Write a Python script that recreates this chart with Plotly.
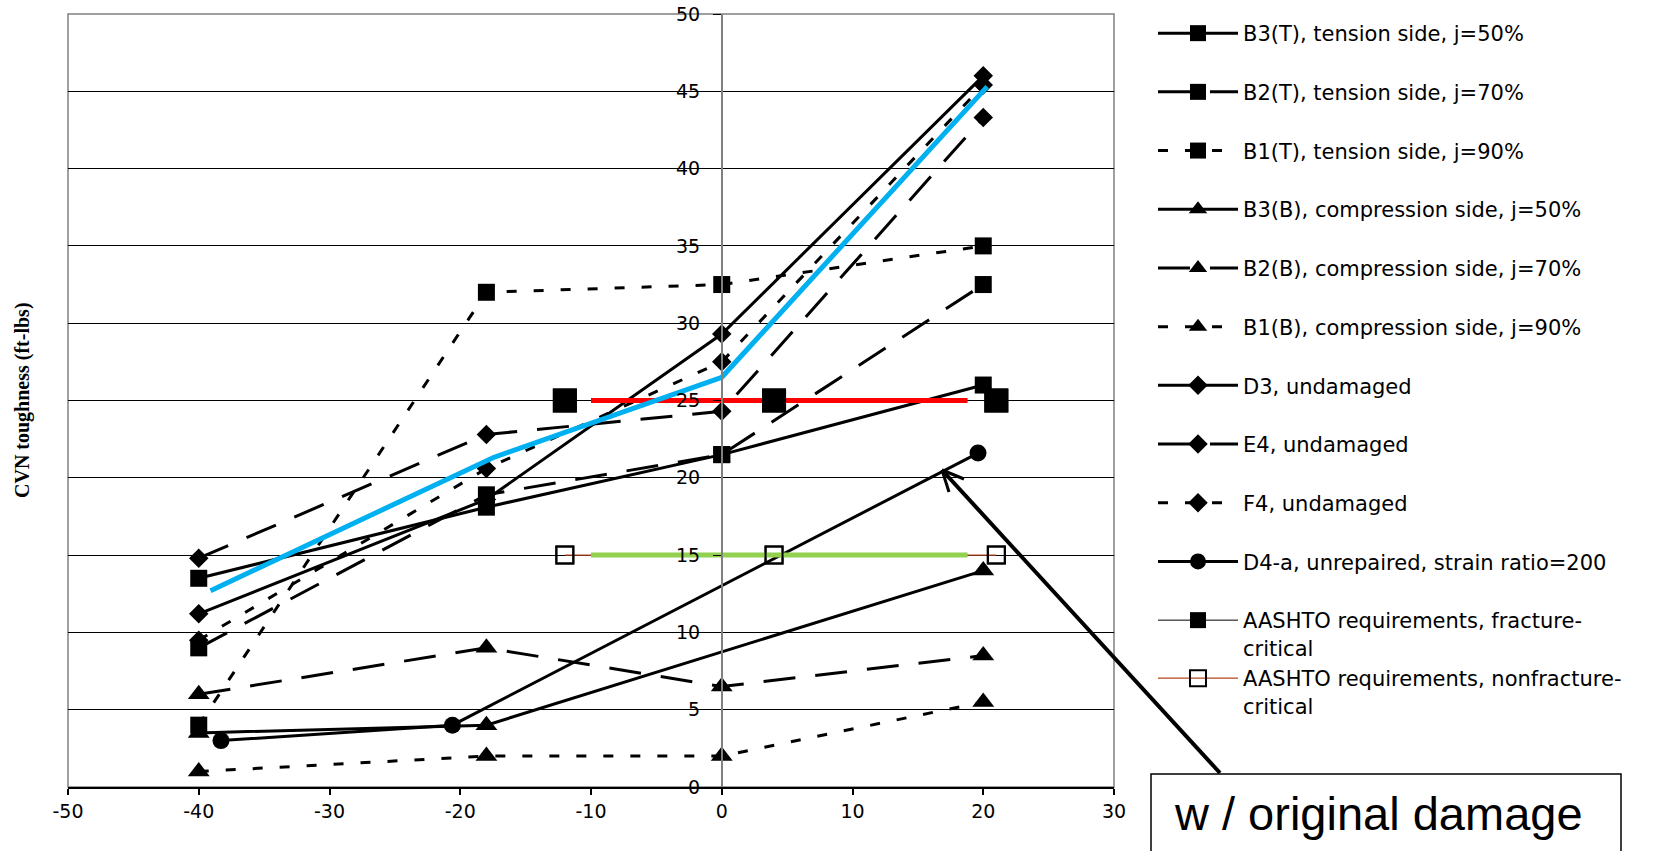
import plotly.graph_objects as go

# ---- data -------------------------------------------------------------
temps = [-40, -18, 0, 20]

b3_t = [13.5, 18.1, 21.5, 26.0]
b2_t = [9.0, 18.9, 21.5, 32.5]
b1_t = [4.0, 32.0, 32.5, 35.0]
b3_b = [3.5, 4.0, None, 14.0]
b2_b = [6.0, 9.0, 6.5, 8.5]
b1_b = [1.0, 2.0, 2.0, 5.5]
d3 = [11.2, 18.6, 29.3, 46.0]
e4 = [14.8, 22.8, 24.3, 43.3]
f4 = [9.5, 20.6, 27.5, 45.4]

d4a_temps = [-38.3, -20.6, 19.6]
d4a = [3.0, 4.0, 21.6]

aashto_temps = [-12, 4, 21]
aashto_fc = [25, 25, 25]
aashto_nfc = [15, 15, 15]

req_span = [-10, 18.8]
req_fc_level = [25, 25]
req_nfc_level = [15, 15]

trend_temps = [-39.1, -17.5, 0, 20.3]
trend_vals = [12.7, 21.3, 26.5, 45.3]

x_ticks = [-50, -40, -30, -20, -10, 0, 10, 20, 30]
x_tick_labels = ["-50", "-40", "-30", "-20", "-10", "0", "10", "20", "30"]
y_ticks = [0, 5, 10, 15, 20, 25, 30, 35, 40, 45, 50]

# ---- styling ----------------------------------------------------------
W, H = 1671, 851
ML, MR, MT, MB = 68, 557, 14, 64
PW = W - ML - MR
PH = H - MT - MB

SANS = "DejaVu Sans"
LONG = "32px,20px"
SHORT = "10px,17px"
LEG_FONT = 21


def px_x(px):
    return (px - ML) / PW


def px_y(py):
    return (H - MB - py) / PH


fig = go.Figure()

series = [
    ("B3(T), tension side, j=50%", temps, b3_t, "solid", "square", 17),
    ("B2(T), tension side, j=70%", temps, b2_t, LONG, "square", 17),
    ("B1(T), tension side, j=90%", temps, b1_t, SHORT, "square", 17),
    ("B3(B), compression side, j=50%", temps, b3_b, "solid", "triangle-up", 19),
    ("B2(B), compression side, j=70%", temps, b2_b, LONG, "triangle-up", 19),
    ("B1(B), compression side, j=90%", temps, b1_b, SHORT, "triangle-up", 19),
    ("D3, undamaged", temps, d3, "solid", "diamond", 15),
    ("E4, undamaged", temps, e4, LONG, "diamond", 15),
    ("F4, undamaged", temps, f4, SHORT, "diamond", 15),
    ("D4-a, unrepaired, strain ratio=200", d4a_temps, d4a, "solid", "circle", 17),
]

rank = 1
for name, xs, ys, dash, sym, size in series:
    fig.add_trace(go.Scatter(
        x=xs, y=ys, name=name, mode="lines+markers", connectgaps=True,
        line=dict(color="black", width=3, dash=dash),
        marker=dict(symbol=sym, size=size, color="black"),
        legendgroup=name, legendrank=rank,
    ))
    rank += 1

# AASHTO requirement lines (legend entries)
fig.add_trace(go.Scatter(
    x=aashto_temps, y=aashto_fc, name="AASHTO requirements, fracture-<br>critical",
    mode="lines+markers", line=dict(color="black", width=1),
    marker=dict(symbol="square", size=24, color="black"),
    legendgroup="fc", legendrank=rank,
))
fig.add_trace(go.Scatter(
    x=aashto_temps, y=aashto_nfc, name="AASHTO requirements, nonfracture-<br>critical",
    mode="lines+markers", line=dict(color="#b5451b", width=1.3),
    marker=dict(symbol="square-open", size=17, color="black", line=dict(width=2)),
    legendgroup="nfc", legendrank=rank + 1, legend="legend2",
))

# highlighted requirement spans and trend line
fig.add_trace(go.Scatter(x=req_span, y=req_fc_level, mode="lines",
                         line=dict(color="#ff0000", width=5), showlegend=False))
fig.add_trace(go.Scatter(x=req_span, y=req_nfc_level, mode="lines",
                         line=dict(color="#92d050", width=5), showlegend=False))
fig.add_trace(go.Scatter(x=trend_temps, y=trend_vals, mode="lines",
                         line=dict(color="#00b0f0", width=5), showlegend=False))

# requirement markers drawn on top of the highlight spans
fig.add_trace(go.Scatter(x=aashto_temps, y=aashto_fc, mode="markers", showlegend=False,
                         marker=dict(symbol="square", size=24, color="black")))
fig.add_trace(go.Scatter(x=aashto_temps, y=aashto_nfc, mode="markers", showlegend=False,
                         marker=dict(symbol="square-open", size=17, color="black",
                                     line=dict(width=2))))

# ---- annotations ------------------------------------------------------
shapes = [
    # plot frame
    dict(type="rect", xref="paper", yref="paper", x0=0, x1=1, y0=0, y1=1,
         line=dict(color="#808080", width=1.5), layer="below"),
    # callout box
    dict(type="rect", xref="paper", yref="paper",
         x0=px_x(1151), x1=px_x(1621), y0=px_y(774), y1=px_y(890),
         line=dict(color="black", width=1.5), fillcolor="white"),
    # arrow shaft and head
    dict(type="line", xref="paper", yref="paper",
         x0=px_x(1220), y0=px_y(773), x1=px_x(942), y1=px_y(470),
         line=dict(color="black", width=4)),
    dict(type="line", xref="paper", yref="paper",
         x0=px_x(942), y0=px_y(470), x1=px_x(964), y1=px_y(479),
         line=dict(color="black", width=3)),
    dict(type="line", xref="paper", yref="paper",
         x0=px_x(942), y0=px_y(470), x1=px_x(949), y1=px_y(492),
         line=dict(color="black", width=3)),
]

annotations = [
    dict(text="<b>CVN toughness (ft-lbs)</b>", xref="paper", yref="paper",
         x=px_x(22), y=px_y(400), textangle=-90, showarrow=False,
         font=dict(family="Liberation Serif", size=20, color="black"),
         xanchor="center", yanchor="middle"),
    dict(text="w / original damage", xref="paper", yref="paper",
         x=px_x(1378), y=px_y(813), showarrow=False,
         font=dict(family="Liberation Sans", size=47, color="black"),
         xanchor="center", yanchor="middle"),
]

legend_style = dict(
    xanchor="left", yanchor="top",
    font=dict(family=SANS, size=LEG_FONT, color="black"),
    tracegroupgap=28.4, itemwidth=80, valign="top",
    maxheight=840, bgcolor="rgba(0,0,0,0)",
)

fig.update_layout(
    width=W, height=H,
    margin=dict(l=ML, r=MR, t=MT, b=MB, autoexpand=False),
    paper_bgcolor="white", plot_bgcolor="white",
    font=dict(family=SANS, color="black"),
    shapes=shapes, annotations=annotations,
    legend=dict(x=px_x(1153), y=px_y(13), **legend_style),
    legend2=dict(x=px_x(1153), y=px_y(658), **legend_style),
)

fig.update_xaxes(
    range=[-50, 30], tickvals=x_ticks, ticktext=x_tick_labels,
    showgrid=False, zeroline=False,
    showline=True, linecolor="black", linewidth=1.5,
    ticks="outside", ticklen=6, tickcolor="black", tickwidth=1.5,
    tickfont=dict(family=SANS, size=19, color="black"),
)
fig.update_yaxes(
    range=[0, 50], tickvals=y_ticks, anchor="free", position=0.625,
    showgrid=True, gridcolor="black", gridwidth=1, zeroline=False,
    showline=True, linecolor="#808080", linewidth=1.5,
    ticks="outside", ticklen=8, tickcolor="black", ticklabelstandoff=9,
    tickfont=dict(family=SANS, size=19, color="black"),
)

fig.write_html("out.html")
